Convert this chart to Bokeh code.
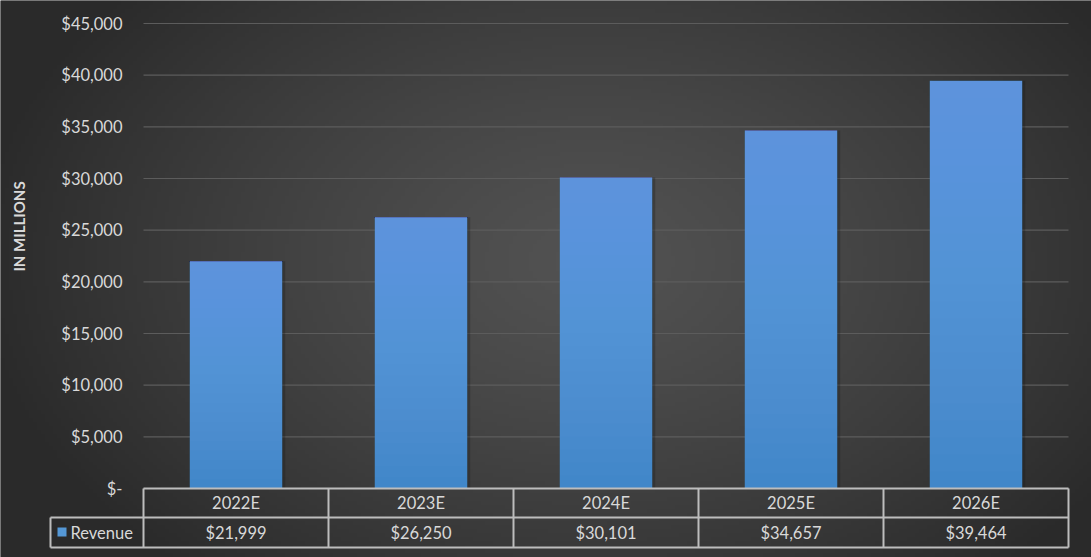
import numpy as np
from bokeh.plotting import figure
from bokeh.models import Range1d, ColumnDataSource
from bokeh.core.properties import value
from bokeh.embed import file_html
from bokeh.resources import INLINE

# ---- data ----
categories = ["2022E", "2023E", "2024E", "2025E", "2026E"]
revenue = [21999, 26250, 30101, 34657, 39464]
revenue_labels = ["$21,999", "$26,250", "$30,101", "$34,657", "$39,464"]
y_ticks = [0, 5000, 10000, 15000, 20000, 25000, 30000, 35000, 40000, 45000]
y_tick_labels = ["$-", "$5,000", "$10,000", "$15,000", "$20,000", "$25,000",
                 "$30,000", "$35,000", "$40,000", "$45,000"]
series_name = "Revenue"
y_title = "IN MILLIONS"

W, H = 1091, 557
PX_X0, PX_X5 = 143.0, 1068.0      # plot area left/right (px)
PX_Y0, PX_YTOP = 488.0, 23.0      # y=0 and y=45000 (px)
ux = (PX_X5 - PX_X0) / len(categories)          # px per category
uy = (PX_Y0 - PX_YTOP) / 45000.0                # px per unit

def dx(px):
    return (px - PX_X0) / ux

def dy(py):
    return (PX_Y0 - py) / uy

FONT = "Lato"
TXT = "#d9d9d9"

p = figure(width=W, height=H, output_backend="svg", toolbar_location=None,
           x_range=Range1d(dx(0), dx(W)), y_range=Range1d(dy(H), dy(0)),
           min_border=0, outline_line_color=None)
p.xaxis.visible = False
p.yaxis.visible = False
p.xgrid.visible = False
p.ygrid.visible = False
p.background_fill_color = "#2c2c2c"
p.border_fill_color = "#2c2c2c"

# background radial gradient
ny, nx = 140, 273
yy, xx = np.mgrid[0:ny, 0:nx]
px_x = xx / (nx - 1) * W
px_y = (ny - 1 - yy) / (ny - 1) * H
r = np.sqrt(((px_x - 590) / 620) ** 2 + ((px_y - 260) / 420) ** 2)
t = np.clip(r, 0, 1) ** 1.3
c = (82 * (1 - t) + 42 * t).astype(np.uint32)
img = (255 << 24) | (c << 16) | (c << 8) | c
p.image_rgba(image=[img.astype(np.uint32)], x=dx(0), y=dy(H),
             dw=dx(W) - dx(0), dh=dy(0) - dy(H))

# gridlines
n = len(categories)
p.segment(x0=[0] * len(y_ticks), x1=[n] * len(y_ticks), y0=y_ticks, y1=y_ticks,
          line_color="#5c5c5c", line_width=1.2)

# bars
xs = [i + 0.5 for i in range(n)]
src = ColumnDataSource(dict(x=xs, top=revenue))
shadow = ColumnDataSource(dict(x=[v + 3 / ux for v in xs], top=revenue))
p.vbar(x="x", top="top", width=0.5, bottom=0, source=shadow,
       fill_color="#1a1a1a", fill_alpha=0.3, line_color=None)
p.vbar(x="x", top="top", width=0.5, bottom=0, source=src,
       fill_color="#3f86c8", line_color=None)
# smooth vertical gradient: stacked translucent layers toward the top
steps = 24
for k in range(steps):
    f = k / steps
    p.vbar(x=xs, top=revenue, bottom=[v * f for v in revenue], width=0.5,
           fill_color="#9cc8f0", fill_alpha=0.028, line_color=None)

# y tick labels
p.text(x=[dx(122)] * len(y_ticks), y=y_ticks, text=y_tick_labels,
       text_align="right", text_baseline="middle", text_color=TXT,
       text_font=value(FONT), text_font_size="16.5px")

# y title
p.text(x=[dx(18)], y=[dy(226)], text=[y_title], angle=np.pi / 2,
       text_align="center", text_baseline="middle", text_color=TXT,
       text_font=value(FONT), text_font_size="15px", text_font_style="bold")

# data table
row1_top, row1_bot, row2_bot = dy(488), dy(517), dy(547)
legend_left = dx(50)
lc = "#bdbdbd"
lw = 2
p.segment(x0=[0, legend_left, legend_left], x1=[n, n, n],
          y0=[row1_top, row1_bot, row2_bot], y1=[row1_top, row1_bot, row2_bot],
          line_color=lc, line_width=lw)
p.segment(x0=list(range(n + 1)), x1=list(range(n + 1)),
          y0=[row1_top] * (n + 1), y1=[row2_bot] * (n + 1),
          line_color=lc, line_width=lw)
p.segment(x0=[legend_left], x1=[legend_left], y0=[row1_bot], y1=[row2_bot],
          line_color=lc, line_width=lw)

p.text(x=xs, y=[(row1_top + row1_bot) / 2] * n, text=categories,
       text_align="center", text_baseline="middle", text_color=TXT,
       text_font=value(FONT), text_font_size="16.5px")
p.text(x=xs, y=[(row1_bot + row2_bot) / 2] * n, text=revenue_labels,
       text_align="center", text_baseline="middle", text_color=TXT,
       text_font=value(FONT), text_font_size="16.5px")
# legend key
p.rect(x=[dx(61.5)], y=[dy(531.5)], width=9 / ux, height=9 / uy,
       fill_color="#5598d6", line_color=None)
p.text(x=[dx(70)], y=[(row1_bot + row2_bot) / 2], text=[series_name],
       text_align="left", text_baseline="middle", text_color=TXT,
       text_font=value(FONT), text_font_size="16.5px")

open("out.html", "w").write(file_html(p, INLINE))
